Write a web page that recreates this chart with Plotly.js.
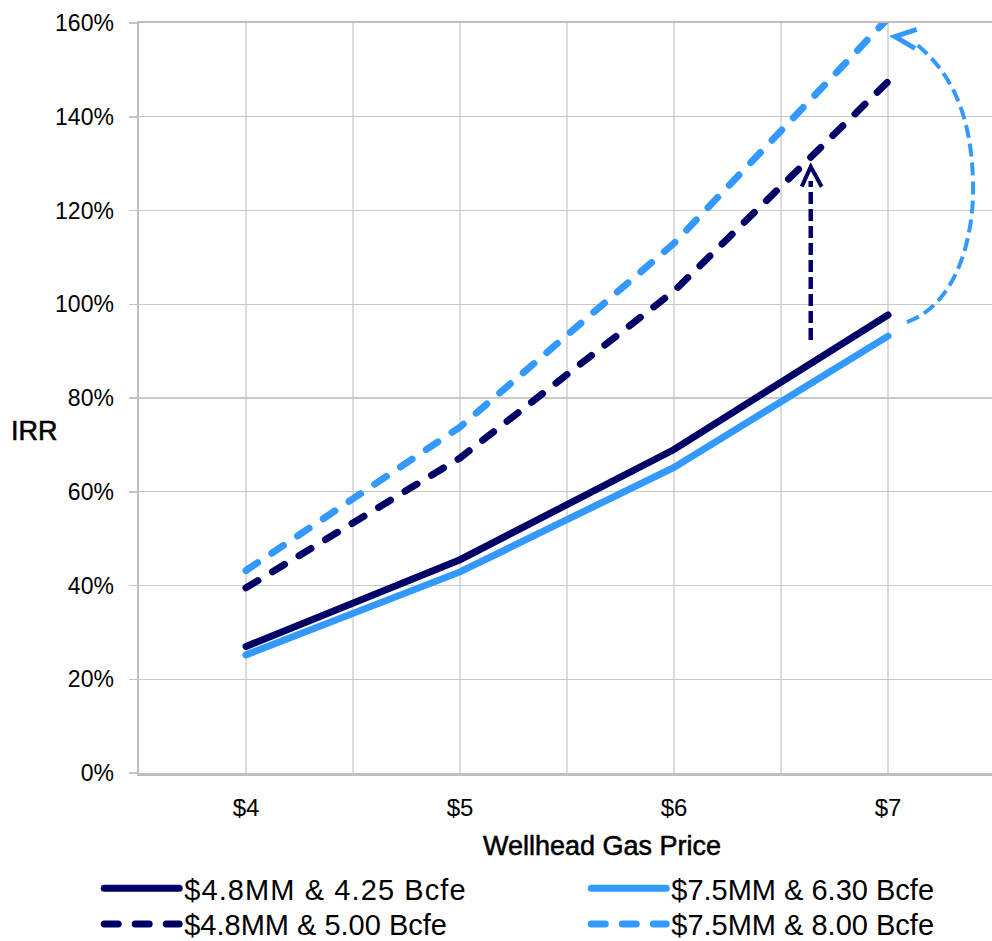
<!DOCTYPE html>
<html>
<head>
<meta charset="utf-8">
<script src="https://cdn.plot.ly/plotly-3.0.1.min.js"></script>
<style>
  html, body { margin: 0; padding: 0; background: #fff; }
  #chart { width: 992px; height: 941px; }
  /* rounded ends on the series strokes and their legend samples */
  path.js-line { stroke-linecap: round; }
  .legendtext { letter-spacing: 1.1px; }
  /* slightly heavier axis titles */
  .annotation-text { stroke: #000; stroke-width: 0.55px; }
</style>
</head>
<body>
<div id="chart"></div>
<script>
// Wellhead gas price ($/Mcf)
const gasPrice = [4, 5, 6, 7];

// IRR (%) by well cost & EUR case
const irr_48_425 = [27.0, 45.5, 69.0, 97.7];
const irr_75_630 = [25.2, 42.9, 65.2, 93.2];
const irr_48_500 = [39.5, 67.2, 102.8, 147.5];
const irr_75_800 = [43.2, 73.8, 113.0, 161.0];

const seriesNames = [
  '$4.8MM & 4.25 Bcfe',
  '$7.5MM & 6.30 Bcfe',
  '$4.8MM & 5.00 Bcfe',
  '$7.5MM & 8.00 Bcfe'
];

const NAVY = '#000066';
const BLUE = '#3399FF';
const DASH = '14px,17px';

function series(y, name, color, dash, legendId) {
  return {
    type: 'scatter', mode: 'lines',
    x: gasPrice, y: y, name: name,
    line: { color: color, width: 7, dash: dash },
    legend: legendId,
    hoverinfo: 'x+y+name'
  };
}

// one legend per entry: two columns, two rows
const data = [
  series(irr_48_425, seriesNames[0], NAVY, 'solid', 'legend'),
  series(irr_75_630, seriesNames[1], BLUE, 'solid', 'legend2'),
  series(irr_48_500, seriesNames[2], NAVY, DASH, 'legend3'),
  series(irr_75_800, seriesNames[3], BLUE, DASH, 'legend4')
];

const FONT = 'Liberation Sans, Arial, sans-serif';
const legendBase = {
  xref: 'container', yref: 'container',
  xanchor: 'left', yanchor: 'top',
  orientation: 'v',
  font: { family: FONT, size: 29, color: '#000' },
  itemwidth: 75,
  bgcolor: 'rgba(0,0,0,0)',
  borderwidth: 0,
  itemclick: false, itemdoubleclick: false
};
const COL1 = 0.100, COL2 = 0.591, ROW1 = 0.083, ROW2 = 0.045;

const layout = {
  width: 992, height: 941,
  margin: { l: 139, r: 0, t: 23, b: 168, autoexpand: false },
  paper_bgcolor: '#fff', plot_bgcolor: '#fff',
  font: { family: FONT, color: '#000' },
  xaxis: {
    range: [3.5, 7.486],
    tick0: 4, dtick: 1,
    tickprefix: '$',
    tickfont: { size: 24, color: '#000' },
    ticks: '',
    ticklabelstandoff: 12,
    showgrid: true, gridcolor: '#dcdcdc', gridwidth: 1.2,
    minor: { tick0: 3.5, dtick: 0.5, showgrid: true, gridcolor: '#dcdcdc', gridwidth: 1.2 },
    showline: true, linecolor: '#bfbfbf', linewidth: 2.5, mirror: true,
    zeroline: false, fixedrange: true, automargin: false
  },
  yaxis: {
    range: [0, 160],
    tick0: 0, dtick: 20,
    ticksuffix: '%',
    tickfont: { size: 23, color: '#000' },
    ticks: 'outside', ticklen: 8, tickwidth: 1.5, tickcolor: '#c4c4c4',
    ticklabelstandoff: 10,
    showgrid: true, gridcolor: '#c8c8c8', gridwidth: 1.3,
    showline: true, linecolor: '#bfbfbf', linewidth: 2.5,
    zeroline: false, fixedrange: true, automargin: false
  },
  legend:  Object.assign({}, legendBase, { x: COL1, y: ROW1 }),
  legend2: Object.assign({}, legendBase, { x: COL2, y: ROW1 }),
  legend3: Object.assign({}, legendBase, { x: COL1, y: ROW2 }),
  legend4: Object.assign({}, legendBase, { x: COL2, y: ROW2 }),
  annotations: [
    {
      text: 'Wellhead Gas Price', xref: 'paper', yref: 'paper',
      x: (602 - 139) / 853, y: (773 - 846) / 750,
      xanchor: 'center', yanchor: 'middle', showarrow: false,
      font: { family: FONT, size: 27, color: '#000' }
    },
    {
      text: 'IRR', xref: 'paper', yref: 'paper',
      x: (34 - 139) / 853, y: (773 - 431) / 750,
      xanchor: 'center', yanchor: 'middle', showarrow: false,
      font: { family: FONT, size: 27, color: '#000' }
    }
  ],
  shapes: [
    // upward arrow at the lower-cost well
    {
      type: 'line', xref: 'x', yref: 'y',
      x0: 6.639, y0: 92.4, x1: 6.639, y1: 126.3,
      line: { color: NAVY, width: 4.5, dash: '12px,5px' }
    },
    {
      type: 'path', xref: 'x', yref: 'y',
      path: 'M6.597,125.08 L6.639,129.34 L6.690,125.08',
      line: { color: NAVY, width: 4 }
    },
    // curved arrow at the higher-cost well
    {
      type: 'path', xref: 'x', yref: 'y',
      path: 'M7.0888,96.21 C7.3131,99.84 7.4065,113.71 7.3972,126.51 C7.3879,139.31 7.3131,148.91 7.1262,155.73',
      line: { color: BLUE, width: 4, dash: '13px,6px' }
    },
    {
      type: 'path', xref: 'x', yref: 'y',
      path: 'M7.1341,158.66 L7.0327,157.08 L7.1262,154.60',
      line: { color: BLUE, width: 5 }
    }
  ],
  showlegend: true
};

Plotly.newPlot('chart', data, layout, { displayModeBar: false, staticPlot: true });
</script>
</body>
</html>
